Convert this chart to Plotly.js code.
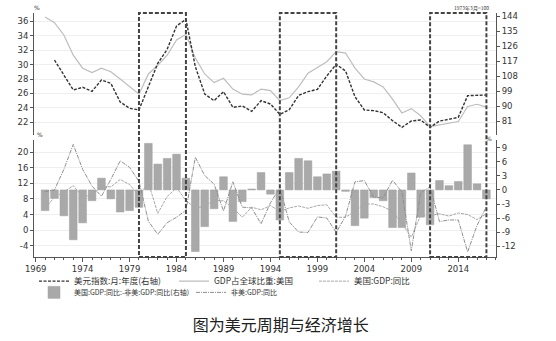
<!DOCTYPE html>
<html>
<head>
<meta charset="utf-8">
<script src="https://cdn.plot.ly/plotly-3.0.1.min.js"></script>
<style>html,body{margin:0;padding:0;background:#fff;}#chart{width:556px;height:341px;}</style>
</head>
<body>
<div id="chart"></div>
<script>
// ---- data ----
const dollarYears = [1971,1972,1973,1974,1975,1976,1977,1978,1979,1980,1981,1982,1983,1984,1985,1986,1987,1988,1989,1990,1991,1992,1993,1994,1995,1996,1997,1998,1999,2000,2001,2002,2003,2004,2005,2006,2007,2008,2009,2010,2011,2012,2013,2014,2015,2016,2017];
const dollarIndex = [117.6,108.6,99.6,101.2,98.8,105.6,103.6,92.4,88.6,87.6,101.2,115.6,124,138,142,113.6,97.2,93.2,98.6,89.2,90,86.8,93.2,91.2,85,87.8,96.4,98.6,100,108,115,111,95.6,87.6,87.2,86,81.2,77.2,81,81.6,77.2,81,82,83.2,96.2,96.6,96.6];

const years = [1970,1971,1972,1973,1974,1975,1976,1977,1978,1979,1980,1981,1982,1983,1984,1985,1986,1987,1988,1989,1990,1991,1992,1993,1994,1995,1996,1997,1998,1999,2000,2001,2002,2003,2004,2005,2006,2007,2008,2009,2010,2011,2012,2013,2014,2015,2016,2017];
const usShare = [36.6,35.8,34.1,31.3,29.5,28.9,29.5,29.0,28.0,26.9,25.9,28.7,29.9,31.3,33.4,34.2,30.9,28.7,27.5,28.1,26.6,25.9,25.8,26.6,26.4,25.0,25.4,26.9,28.8,29.6,30.4,31.8,31.6,29.5,28.0,27.6,26.9,25.2,23.3,23.9,22.9,21.4,21.6,21.8,22.1,24.2,24.5,24.1];
const usGdpYoy = [5.5,8.5,9.8,11.4,8.6,9.0,11.2,11.1,13.0,11.7,8.8,12.2,4.3,8.6,10.9,7.6,5.7,6.1,7.7,7.5,5.7,3.3,5.9,5.2,6.3,4.8,5.7,6.2,5.6,6.3,6.5,3.3,3.3,4.8,6.7,6.7,6.0,4.8,1.7,-1.8,3.8,3.7,4.2,3.6,4.4,4.0,2.7,4.2];
const nonUsGdpYoy = [9.9,10.3,15.6,22.0,15.6,11.3,8.7,13.0,17.8,16.1,12.5,2.3,-1.1,1.9,3.3,5.1,18.7,14.0,11.8,4.9,12.4,5.9,5.7,1.6,7.0,10.9,2.1,-0.5,-0.6,3.4,3.1,-0.6,3.6,12.4,12.7,8.4,8.3,12.8,9.8,-5.3,9.6,11.1,2.2,2.6,2.6,-5.6,1.2,6.0];
const gdpGap = [-4.4,-1.8,-5.5,-10.6,-7.0,-2.3,2.5,-1.9,-4.7,-4.4,-3.7,9.9,5.5,6.7,7.6,2.5,-13.1,-7.8,-4.0,2.8,-6.7,-2.5,0.2,3.7,-0.9,-6.4,3.7,6.7,6.2,2.8,3.4,4.0,-0.3,-7.6,-6.0,-1.6,-2.3,-8.0,-8.0,3.6,-5.8,-7.4,2.0,0.9,1.8,9.6,1.3,-1.9];

const cycles = [[1980,1985],[1995,2001],[2011,2017]];
const xTicks = [1969,1974,1979,1984,1989,1994,1999,2004,2009,2014];
const leftTopTicks = [22,24,26,28,30,32,34,36];
const rightTopTicks = [81,90,99,108,117,126,135,144];
const leftBotTicks = [-4,0,4,8,12,16,20];
const rightBotTicks = [-12,-9,-6,-3,0,3,6,9];

const names = {
  dollar: '美元指数:月:年度(右轴)',
  share: 'GDP占全球比重:美国',
  us: '美国:GDP:同比',
  gap: '美国:GDP:同比:-非美:GDP:同比(右轴)',
  nonus: '非美:GDP:同比'
};

const FONT = 'DejaVu Sans, Liberation Sans, sans-serif';
const CJK = 'Noto Sans CJK SC, DejaVu Sans, sans-serif';

const traces = [
  {x: dollarYears, y: dollarIndex, name: names.dollar, type: 'scatter', mode: 'lines', legend: 'legend',
   xaxis: 'x', yaxis: 'y4', line: {color: '#333333', width: 1.4, dash: '3px,1.5px'}},
  {x: years, y: usShare, name: names.share, type: 'scatter', mode: 'lines', legend: 'legend',
   xaxis: 'x', yaxis: 'y3', line: {color: '#bdbdbd', width: 1.2}},
  {x: years, y: usGdpYoy, name: names.us, type: 'scatter', mode: 'lines', legend: 'legend',
   xaxis: 'x', yaxis: 'y2', line: {color: '#a8a8a8', width: 1, dash: '3px,1px'}},
  {x: years, y: gdpGap, name: names.gap, type: 'bar', width: 0.82, legend: 'legend2',
   xaxis: 'x', yaxis: 'y', marker: {color: '#a9a9a9', line: {color: '#a0a0a0', width: 0.5}}},
  {x: years, y: nonUsGdpYoy, name: names.nonus, type: 'scatter', mode: 'lines', legend: 'legend2',
   xaxis: 'x', yaxis: 'y2', line: {color: '#8e8e8e', width: 1, dash: '4px,1px,1px,1px'}}
];

const shapes = cycles.map(c => ({
  type: 'rect', xref: 'x', yref: 'paper', x0: c[0], x1: c[1], y0: 0, y1: 1,
  line: {color: '#444444', width: 2, dash: '4px,2px'}, fillcolor: 'rgba(0,0,0,0)', layer: 'above'
}));

const axisCommon = {
  showline: true, linecolor: '#555555', linewidth: 1, ticks: 'outside', ticklen: 3,
  tickcolor: '#555555', tickfont: {family: FONT, size: 8.5, color: '#333333'},
  zeroline: false, fixedrange: true
};

const legendCommon = {
  orientation: 'h', x: 0.0, xanchor: 'left', yanchor: 'middle',
  traceorder: 'normal', entrywidthmode: 'pixels', itemwidth: 30,
  bgcolor: 'rgba(0,0,0,0)', borderwidth: 0
};

const layout = {
  width: 556, height: 341,
  margin: {l: 34, r: 60, t: 13, b: 84, pad: 0},
  paper_bgcolor: '#ffffff', plot_bgcolor: '#ffffff',
  showlegend: true,
  barmode: 'overlay',
  font: {family: FONT, size: 8, color: '#333333'},
  title: {text: '图为美元周期与经济增长', x: 0.505, xanchor: 'center', y: 0.047, yanchor: 'middle',
          yref: 'container', font: {family: CJK, size: 16, color: '#222222'}},
  xaxis: Object.assign({}, axisCommon, {
    range: [1968.82, 2018.02], anchor: 'y', tickmode: 'array', tickvals: xTicks,
    ticktext: xTicks.map(String), ticklen: 4, showgrid: false,
    minor: {dtick: 1, tick0: 1969, ticks: 'outside', ticklen: 2, tickcolor: '#555555', showgrid: false}
  }),
  // lower panel: bars on right axis (base), lines on left axis (overlay)
  yaxis: Object.assign({}, axisCommon, {
    domain: [0, 0.48], side: 'right', anchor: 'x', range: [-14.26, 10.64],
    tickmode: 'array', tickvals: rightBotTicks, ticktext: rightBotTicks.map(String), showgrid: false
  }),
  yaxis2: Object.assign({}, axisCommon, {
    domain: [0, 0.48], side: 'left', overlaying: 'y', anchor: 'x', range: [-6.9, 23.16],
    tickmode: 'array', tickvals: leftBotTicks, ticktext: leftBotTicks.map(String),
    showgrid: true, gridcolor: '#efefef', gridwidth: 1
  }),
  // upper panel
  yaxis3: Object.assign({}, axisCommon, {
    domain: [0.5, 1], side: 'left', anchor: 'x', range: [20.24, 37.15],
    tickmode: 'array', tickvals: leftTopTicks, ticktext: leftTopTicks.map(String),
    showgrid: true, gridcolor: '#efefef', gridwidth: 1
  }),
  yaxis4: Object.assign({}, axisCommon, {
    domain: [0.5, 1], side: 'right', overlaying: 'y3', anchor: 'x', range: [72.6, 145.8],
    tickmode: 'array', tickvals: rightTopTicks, ticktext: rightTopTicks.map(String), showgrid: false
  }),
  legend: Object.assign({}, legendCommon, {y: -0.099, entrywidth: 95,
    font: {family: CJK, size: 8.5, color: '#333333'}}),
  legend2: Object.assign({}, legendCommon, {y: -0.145, entrywidth: 112,
    font: {family: CJK, size: 7, color: '#333333'}}),
  shapes: shapes,
  annotations: [
    {text: '%', xref: 'paper', yref: 'paper', x: -0.005, y: 1.0, xanchor: 'left', yanchor: 'bottom',
     showarrow: false, font: {family: FONT, size: 6, color: '#333'}},
    {text: '%', xref: 'paper', yref: 'paper', x: 0.002, y: 0.48, xanchor: 'left', yanchor: 'bottom',
     showarrow: false, font: {family: FONT, size: 6, color: '#333'}},
    {text: '%', xref: 'paper', yref: 'paper', x: 0.995, y: 0.465, xanchor: 'right', yanchor: 'bottom',
     showarrow: false, font: {family: FONT, size: 6, color: '#333'}},
    {text: '1973年3月=100', xref: 'paper', yref: 'paper', x: 0.99, y: 0.995, xanchor: 'right', yanchor: 'bottom',
     showarrow: false, font: {family: CJK, size: 5, color: '#333'}}
  ]
};

Plotly.newPlot('chart', traces, layout, {displayModeBar: false, staticPlot: true});
</script>
</body>
</html>
